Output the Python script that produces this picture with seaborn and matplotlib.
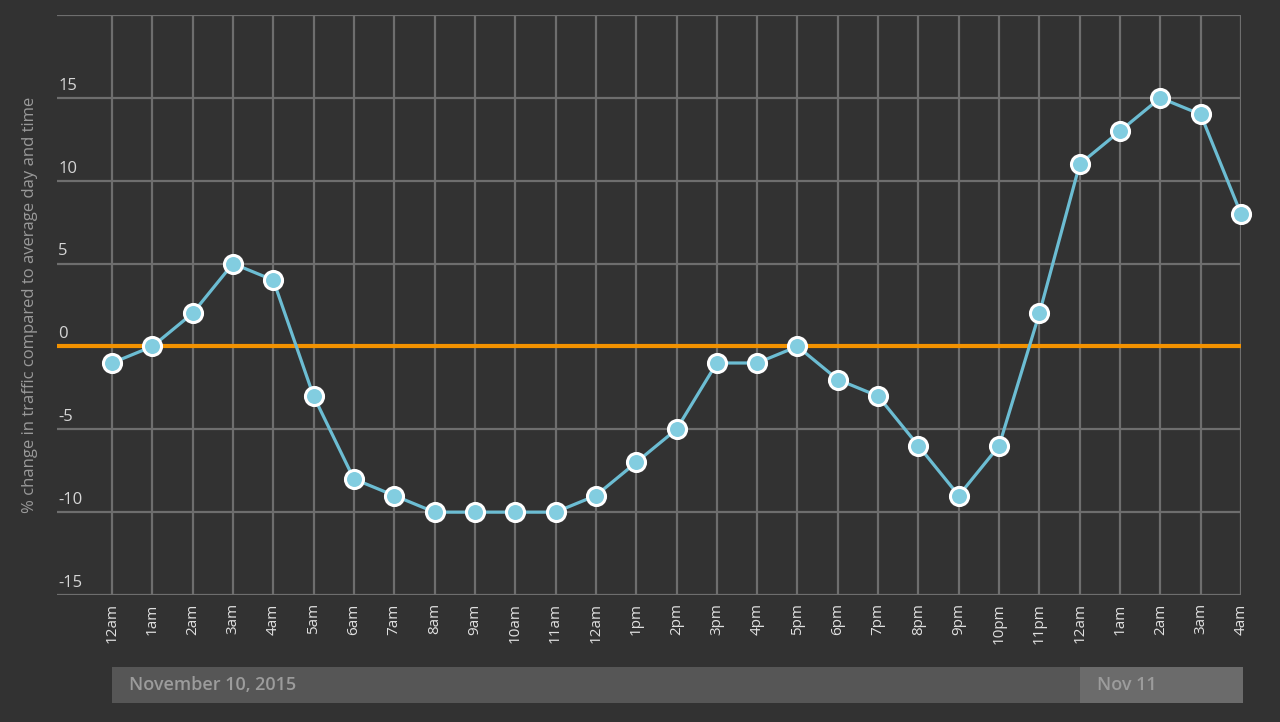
import numpy as np
import pandas as pd
import matplotlib
matplotlib.use("Agg")
import matplotlib.pyplot as plt
import matplotlib.transforms as mtransforms
from matplotlib.patches import Rectangle
import seaborn as sns

hours = ["12am", "1am", "2am", "3am", "4am", "5am", "6am", "7am", "8am", "9am",
         "10am", "11am", "12am", "1pm", "2pm", "3pm", "4pm", "5pm", "6pm", "7pm",
         "8pm", "9pm", "10pm", "11pm", "12am", "1am", "2am", "3am", "4am"]
change = [-1, 0, 2, 5, 4, -3, -8, -9, -10, -10,
          -10, -10, -9, -7, -5, -1, -1, 0, -2, -3,
          -6, -9, -6, 2, 11, 13, 15, 14, 8]
y_ticks = [-15, -10, -5, 0, 5, 10, 15]
day_labels = ["November 10, 2015", "Nov 11"]
day_starts = [0, 24]

bg = "#323232"
sns.set_theme(style="dark")
plt.rcParams["font.family"] = ["Open Sans", "DejaVu Sans"]

df = pd.DataFrame({"pos": np.arange(len(hours)), "change": change})

fig = plt.figure(figsize=(12.8, 7.22), dpi=100, facecolor=bg)
ax = fig.add_axes([57 / 1280, 1 - 595 / 722, (1241 - 57) / 1280, (595 - 15) / 722])
ax.set_facecolor(bg)

# grid
for v in [-15, -10, -5, 5, 10, 15, 20]:
    ax.axhline(v, color="#6e6e6e", lw=1.6, zorder=1)
for i in range(len(hours)):
    ax.axvline(i, color="#6e6e6e", lw=1.6, zorder=1)
ax.axhline(0, color="#f39200", lw=3, zorder=2)

sns.lineplot(data=df, x="pos", y="change", ax=ax, color="#6cbdd3", lw=2.3,
             marker="o", markersize=13, markerfacecolor="#82cde0",
             markeredgecolor="white", markeredgewidth=2.2, zorder=3, clip_on=False)

ax.set_xlim(-(112 - 57) / ((1241 - 112) / 28), len(hours) - 1)
ax.set_ylim(-15, 20)
for s in ax.spines.values():
    s.set_visible(False)

ax.set_xticks(range(len(hours)))
ax.set_xticklabels(hours, rotation=90, color="#e0e0e0", fontsize=11)
ax.tick_params(axis="x", length=0, pad=6)
ax.set_yticks([])
ax.set_xlabel("")
ax.set_ylabel("")

ytrans = ax.get_yaxis_transform()
for v in y_ticks:
    ax.annotate(str(v), xy=(0, v), xycoords=ytrans, xytext=(1, 3),
                textcoords="offset points", ha="left", va="bottom",
                color="#d6d6d6", fontsize=12)

fig.text(30 / 1280, 1 - 305 / 722,
         "% change in traffic compared to average day and time",
         rotation=90, ha="center", va="center", color="#9a9a9a", fontsize=12)

# day band under the axis
btrans = mtransforms.blended_transform_factory(ax.transData, ax.transAxes)
band_y0 = -(703 - 595) / 580
band_h = (703 - 667) / 580
ends = day_starts[1:] + [len(hours) - 1 + 0.05]
colors = ["#565656", "#6b6b6b"]
for start, end, label, c in zip(day_starts, ends, day_labels, colors):
    ax.add_patch(Rectangle((start, band_y0), end - start, band_h, transform=btrans,
                           facecolor=c, edgecolor="none", clip_on=False))
    ax.text(start + 0.42, band_y0 + band_h / 2, label, transform=btrans,
            ha="left", va="center", color="#9c9c9c", fontsize=13, fontweight="semibold")

fig.savefig("out.png", dpi=100, facecolor=bg)
